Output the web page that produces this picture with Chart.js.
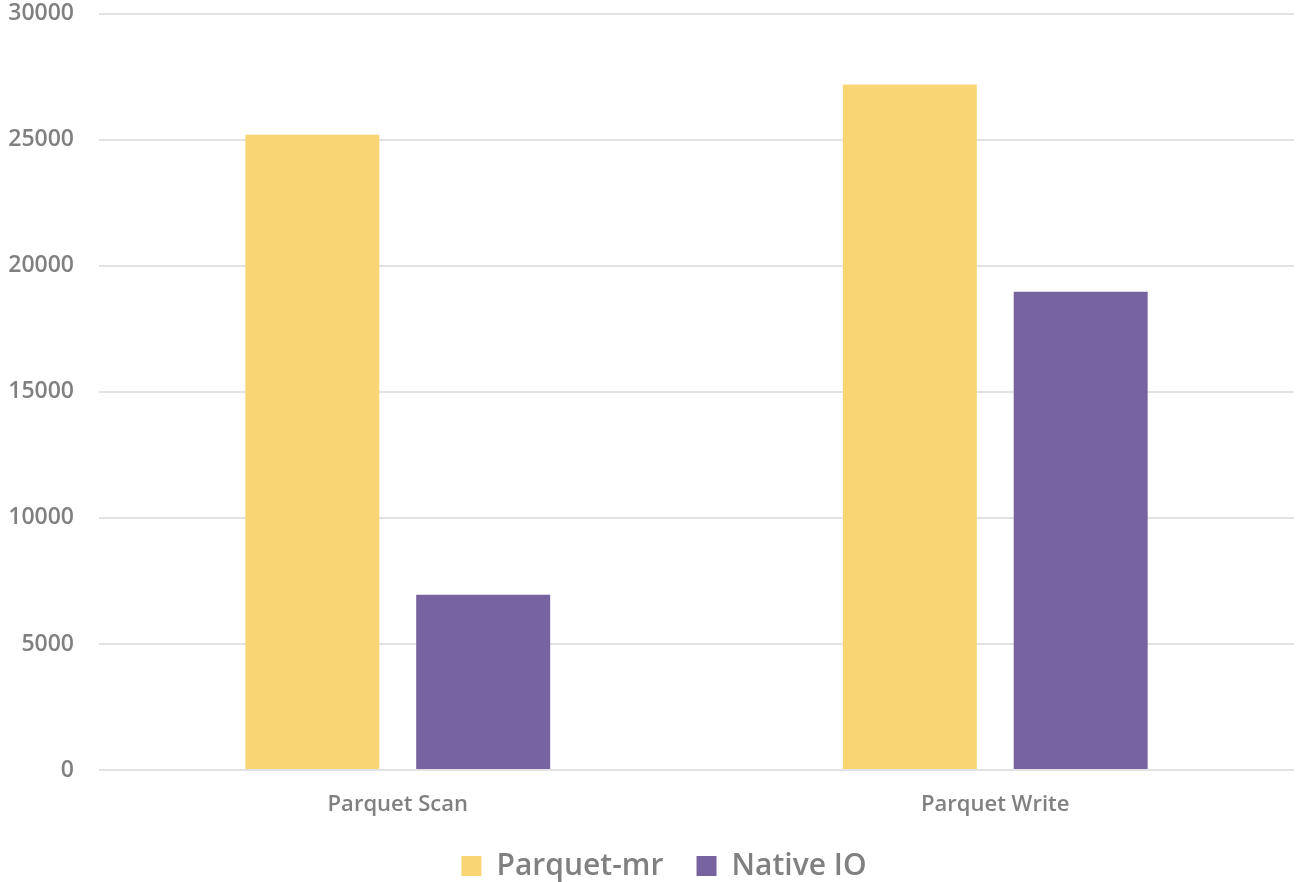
<!DOCTYPE html>
<html>
<head>
<meta charset="utf-8">
<script src="https://cdn.jsdelivr.net/npm/chart.js@4/dist/chart.umd.min.js"></script>
<style>
  html, body { margin: 0; padding: 0; background: #fff; }
  #wrap { width: 1297px; height: 882px; }
</style>
</head>
<body>
<div id="wrap"><canvas id="bar-chart"></canvas></div>
<script>
// Chart data
var categories = ["Parquet Scan", "Parquet Write"];
var parquetMr = [25200, 27200];
var nativeIO = [6950, 18970];
var seriesNames = ["Parquet-mr", "Native IO"];

var textColor = "#808080";
var gridColor = "#e2e2e2";

var ctx = document.getElementById("bar-chart");

// nudge the legend: a bit lower and a bit to the right
var legendTweak = {
    id: 'legendTweak',
    beforeInit: function(chart) {
        var fit = chart.legend.fit;
        chart.legend.fit = function() {
            fit.bind(chart.legend)();
            this.height -= 9;
        };
    },
    afterLayout: function(chart) {
        chart.legend.left += 17;
        chart.legend.right += 17;
    }
};

var chartData = {
    labels: categories,
    datasets: [{
        label: seriesNames[0],
        data: parquetMr,
        backgroundColor: "#FAD574",
        borderWidth: 0,
        categoryPercentage: 0.572,
        barPercentage: 0.784
    }, {
        label: seriesNames[1],
        data: nativeIO,
        backgroundColor: "#77639F",
        borderWidth: 0,
        categoryPercentage: 0.572,
        barPercentage: 0.784
    }]
};

var config = {
    type: 'bar',
    data: chartData,
    plugins: [legendTweak],
    options: {
        responsive: true,
        maintainAspectRatio: false,
        animation: false,
        layout: { padding: { top: 0, right: 3, left: 0, bottom: 0 } },
        plugins: {
            tooltip: { enabled: false },
            legend: {
                position: 'bottom',
                labels: {
                    color: textColor,
                    font: { family: "'Open Sans', sans-serif", size: 30, weight: '600' },
                    boxWidth: 20,
                    boxHeight: 20,
                    padding: 2,
                    // wider gap between the two legend items
                    generateLabels: function(chart) {
                        var items = Chart.defaults.plugins.legend.labels.generateLabels(chart);
                        items.forEach(function(item, i) {
                            if (i < items.length - 1) item.text = item.text + "    ";
                        });
                        return items;
                    }
                }
            }
        },
        scales: {
            x: {
                grid: { display: false, drawTicks: false },
                border: { display: false },
                ticks: {
                    color: textColor,
                    padding: 22,
                    font: { family: "'Open Sans', sans-serif", size: 22, weight: '600' }
                },
                afterFit: function(scale) { scale.height = 79; }
            },
            y: {
                min: 0,
                max: 30000,
                grid: { color: gridColor, lineWidth: 2, drawTicks: true, tickLength: 25, tickColor: 'rgba(0,0,0,0)' },
                border: { display: false },
                ticks: {
                    stepSize: 5000,
                    color: textColor,
                    padding: 0,
                    font: { family: "'Open Sans', sans-serif", size: 23, weight: '600' },
                    callback: function(value) { return String(value); }
                },
                afterFit: function(scale) { scale.width = 99; }
            }
        }
    }
};

var barChart = new Chart(ctx, config);
</script>
</body>
</html>
